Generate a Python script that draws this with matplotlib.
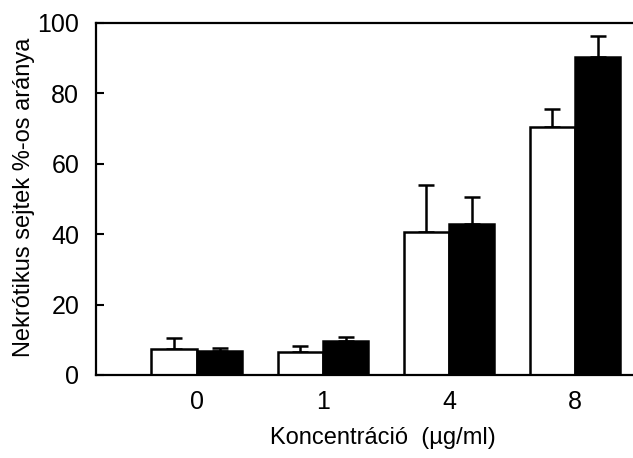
import matplotlib.pyplot as plt
import numpy as np

plt.rcParams['font.family'] = ['Liberation Sans', 'DejaVu Sans']

concentrations = ["0", "1", "4", "8"]
white_vals = [7.3, 6.6, 40.6, 70.4]
white_err = [3.1, 1.6, 13.3, 5.1]
black_vals = [6.8, 9.6, 42.8, 90.3]
black_err = [0.8, 1.3, 7.7, 5.9]


def main():
    fig = plt.figure(figsize=(6.33, 4.58), dpi=100)
    ax = fig.add_axes([96 / 633, 83 / 458, 1 - 96 / 633, 352 / 458])

    x = np.arange(len(concentrations))
    w = 0.36

    ax.bar(x - w / 2, white_vals, w, color="white", edgecolor="black",
           linewidth=1.8, zorder=2)
    ax.bar(x + w / 2, black_vals, w, color="black", edgecolor="black",
           linewidth=1.8, zorder=2)
    ax.errorbar(x - w / 2, white_vals, yerr=[np.zeros(4), white_err], fmt="none",
                ecolor="black", elinewidth=1.8, capsize=6, capthick=1.8, zorder=1)
    ax.errorbar(x + w / 2, black_vals, yerr=[np.zeros(4), black_err], fmt="none",
                ecolor="black", elinewidth=1.8, capsize=6, capthick=1.8, zorder=1)

    ax.set_xlim(-0.8, 3.46)
    ax.set_ylim(0, 100)
    ax.set_yticks([0, 20, 40, 60, 80, 100])
    ax.set_xticks(x)
    ax.set_xticklabels(concentrations)
    ax.tick_params(axis="y", direction="in", length=6, width=1.5,
                   labelsize=18, pad=12)
    ax.tick_params(axis="x", length=0, labelsize=18, pad=11)

    for s in ["left", "top", "bottom"]:
        ax.spines[s].set_linewidth(1.6)
    ax.spines["right"].set_visible(False)

    fig.text(24 / 633, 1 - 197 / 458, "Nekrótikus sejtek %-os aránya",
             rotation=90, ha="center", va="center", fontsize=17)
    fig.text(383 / 633, 1 - 438 / 458, "Koncentráció  (µg/ml)",
             ha="center", va="center", fontsize=17)

    fig.savefig("out.png", dpi=100)


if __name__ == "__main__":
    main()
